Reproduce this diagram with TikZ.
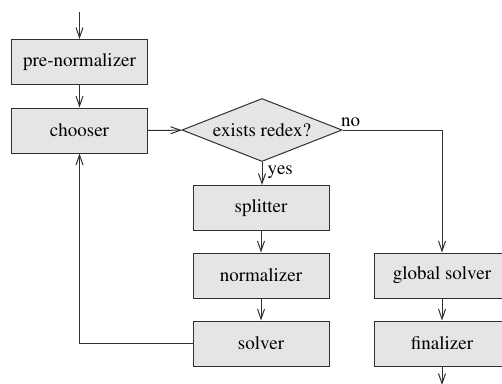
\documentclass[tikz,border=0pt]{standalone}
\usepackage[T1]{fontenc}
\usepackage{mathptmx}
\usetikzlibrary{shapes.geometric,arrows.meta}
\definecolor{boxfill}{HTML}{E5E5E5}
\definecolor{linecol}{HTML}{303030}
\tikzset{
  txt/.style={font=\rmfamily\fontsize{19}{22}\selectfont},
  procbox/.style={txt, draw=linecol, fill=boxfill, line width=1pt, minimum width=136pt, minimum height=45pt, inner sep=0pt},
  decbox/.style={txt, draw=linecol, fill=boxfill, line width=1pt, diamond, aspect=2.58, minimum width=160pt, minimum height=63pt, inner sep=0pt},
  conn/.style={draw=linecol, line width=1pt, -{Straight Barb[length=10pt,width=7pt]}},
  lbl/.style={txt, inner sep=1pt}
}
\begin{document}
\begin{tikzpicture}[x=1pt,y=-1pt]
\useasboundingbox (0,0) rectangle (502,383);
\node[procbox] (pre) at (79.5,62) {pre-normalizer};
\node[procbox] (choose) at (79.5,130.5) {chooser};
\node[decbox] (dec) at (262,130) {exists redex?};
\node[procbox] (split) at (261,208) {splitter};
\node[procbox] (norm) at (261,275.5) {normalizer};
\node[procbox] (solv) at (261,343.5) {solver};
\node[procbox] (glob) at (442,275.5) {global solver};
\node[procbox] (fin) at (442,343.5) {finalizer};
\coordinate (in) at (79.5,12);
\coordinate (out) at (442,385);
\draw[conn] (in) -- (pre);
\draw[conn] (pre) -- (choose);
\draw[conn] (choose) -- (dec);
\draw[conn] (dec.south) -- node[lbl, anchor=west, pos=0.45, xshift=4pt] {yes} (dec.south |- split.north);
\draw[conn] (dec.east) -- node[lbl, anchor=south west, pos=0, xshift=-3pt, yshift=2pt] {no} (dec.east -| glob.north) -- (glob.north);
\draw[conn] (split) -- (norm);
\draw[conn] (norm) -- (solv);
\draw[conn] (solv.west) -| (choose.south);
\draw[conn] (glob) -- (fin);
\draw[conn] (fin) -- (out);
\end{tikzpicture}
\end{document}
